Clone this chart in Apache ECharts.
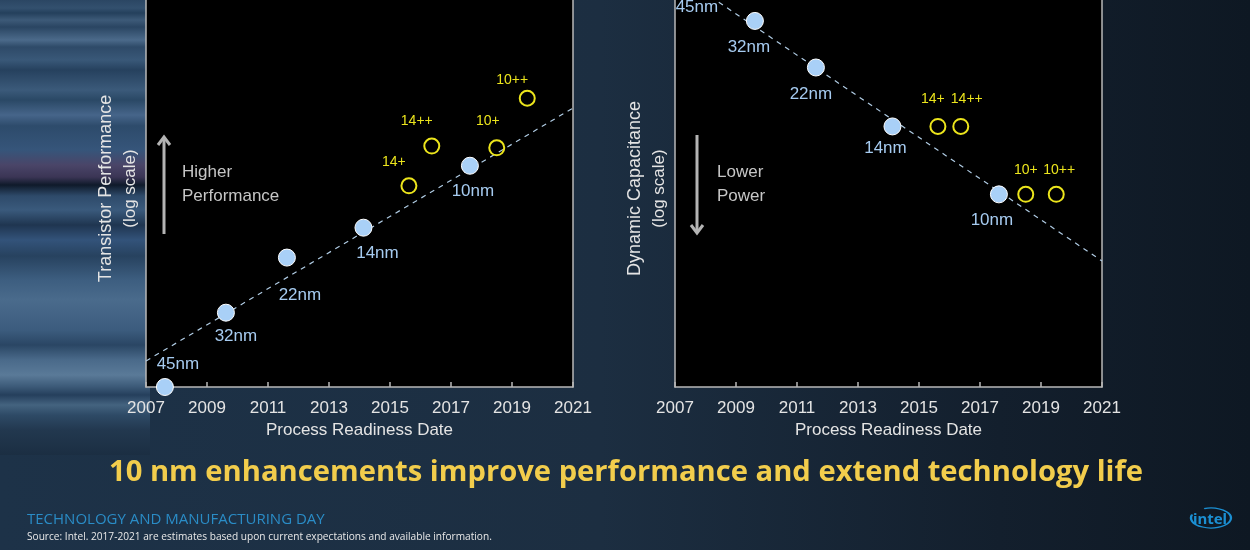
<!DOCTYPE html>
<html>
<head>
<meta charset="utf-8">
<script src="https://cdn.jsdelivr.net/npm/echarts@6/dist/echarts.min.js"></script>
<style>
html,body{margin:0;padding:0;width:1250px;height:550px;overflow:hidden;}
body{
  background:
    linear-gradient(to bottom,
      #2b4663 0px, #33506e 8px, #24405c 13px, #3d5a78 20px, #2a4562 27px, #4b6a8a 40px, #2e4a68 47px,
      #395878 60px, #26415e 70px, #3b5a7a 90px, #2a4865 100px, #46658a 115px, #2d4b6b 126px,
      #36557a 150px, #4a4568 165px, #3b3555 177px, #0f1a2a 185px, #2e4a6a 196px, #3a5a7c 210px,
      #1f3550 225px, #33537a 240px, #27425f 256px, #3d5e80 280px, #4a6b8c 300px, #3c5c7e 330px,
      #2a4664 345px, #4a6a8a 360px, #5a7a98 375px, #3e5c7a 386px, #253f5c 395px, #44637f 405px,
      #2e4a66 415px, #22384f 430px, #1b2e42 455px) 0 0 / 150px 455px no-repeat,
    linear-gradient(to right, #1d3248 0px, #1c2e41 600px, #131f2d 1000px, #0e1823 1250px);
}
#chart{width:1250px;height:550px;}
</style>
</head>
<body>
<div id="chart"></div>
<script>
// ---- data ----
const nodeNames = ['45nm', '32nm', '22nm', '14nm', '10nm'];
const nodeYears = [2007.62, 2009.62, 2011.62, 2014.13, 2017.62];
const plusNames = ['14+', '14++', '10+', '10++'];
const plusYears = [2015.62, 2016.37, 2018.5, 2019.5];

// Transistor performance (log scale, relative units)
const perfNodeVals = [0, 17.4, 30.3, 37.3, 51.8];
const perfPlusVals = [47.1, 56.4, 56.0, 67.6];
const perfTrendYears = [2007, 2021];
const perfTrendVals = [6.1, 65.3];

// Dynamic capacitance (log scale, relative units)
const capNodeVals = [94.5, 85.7, 74.8, 61.0, 45.1];
const capPlusVals = [61.0, 61.0, 45.1, 45.1];
const capTrendYears = [2007.62, 2021];
const capTrendVals = [94.0, 29.5];

const xTicks = [2007, 2009, 2011, 2013, 2015, 2017, 2019, 2021];
const yRange = [0, 90.6];   // visible part of the (cropped) log axis

// ---- style config ----
const FONT = "'Liberation Sans', Arial, sans-serif";
const BLUE = '#a9d0f7';
const BLUE_TXT = '#a6cbf0';
const YEL = '#ece51c';
const BORDER = '#b8b8b8';
const perfLabelOff = {'45nm':[13,-23],'32nm':[10,24],'22nm':[13,38],'14nm':[14,26],'10nm':[3,26],
  '14+':[-15,-24],'14++':[-15,-25],'10+':[-9,-27],'10++':[-15,-18]};
const capLabelOff = {'45nm':[3,24],'32nm':[-6,26],'22nm':[-5,27],'14nm':[-7,22],'10nm':[-7,26],
  '14+':[-5,-27],'14++':[6,-27],'10+':[0,-24],'10++':[3,-24]};

function pts(names, xs, ys, off) {
  return names.map((n, i) => ({
    name: n, value: [xs[i], ys[i]],
    label: {offset: off[n]}
  }));
}

function makeSeries(idx, nodeVals, plusVals, tYears, tVals, off) {
  return [
    {
      type: 'line', xAxisIndex: idx, yAxisIndex: idx, z: 1,
      data: tYears.map((x, i) => [x, tVals[i]]),
      symbol: 'none', silent: true,
      lineStyle: {color: '#b0cce4', width: 1.2, type: [5, 5]}
    },
    {
      type: 'scatter', xAxisIndex: idx, yAxisIndex: idx, z: 3, clip: false,
      data: pts(nodeNames, nodeYears, nodeVals, off),
      symbol: 'circle', symbolSize: 17,
      itemStyle: {color: BLUE, borderColor: '#ffffff', borderWidth: 1, opacity: 1},
      label: {show: true, position: 'inside', formatter: '{b}', color: BLUE_TXT,
        fontSize: 17, fontFamily: FONT}
    },
    {
      type: 'scatter', xAxisIndex: idx, yAxisIndex: idx, z: 3, clip: false,
      data: pts(plusNames, plusYears, plusVals, off),
      symbol: 'circle', symbolSize: 15,
      itemStyle: {color: 'rgba(0,0,0,0)', borderColor: YEL, borderWidth: 2, opacity: 1},
      label: {show: true, position: 'inside', formatter: '{b}', color: YEL,
        fontSize: 14, fontFamily: FONT}
    }
  ];
}

function xAxisCfg(idx) {
  return {
    type: 'value', gridIndex: idx, min: xTicks[0], max: xTicks[xTicks.length - 1], interval: 2,
    axisLine: {show: true, lineStyle: {color: BORDER, width: 1.5}},
    axisTick: {show: true, inside: true, length: 5, lineStyle: {color: BORDER, width: 1.5}},
    splitLine: {show: false},
    axisLabel: {color: '#e4e4e4', fontSize: 17, fontFamily: FONT, margin: 13,
      formatter: v => String(v)},
    name: 'Process Readiness Date', nameLocation: 'middle', nameGap: 35,
    nameTextStyle: {color: '#e4e4e4', fontSize: 17, fontFamily: FONT}
  };
}
function yAxisCfg(idx, title) {
  return {
    type: 'value', gridIndex: idx, min: yRange[0], max: yRange[1], position: 'left',
    axisLine: {show: true, onZero: false, lineStyle: {color: BORDER, width: 1.5}},
    axisTick: {show: false}, axisLabel: {show: false},
    splitLine: {show: false},
    name: '{a|' + title + '}\n{b|(log scale)}', nameLocation: 'middle', nameRotate: 90, nameGap: 4,
    nameTextStyle: {color: '#e4e4e4', fontFamily: FONT, align: 'center', padding: [0, 0, 0, 10],
      rich: {a: {fontSize: 18, lineHeight: 24, color: '#e4e4e4', fontFamily: FONT, align: 'center'},
             b: {fontSize: 17, lineHeight: 24, color: '#e4e4e4', fontFamily: FONT, align: 'center'}}}
  };
}
function yRightCfg(idx) {
  return {
    type: 'value', gridIndex: idx, min: yRange[0], max: yRange[1], position: 'right',
    axisLine: {show: true, onZero: false, lineStyle: {color: BORDER, width: 1.5}},
    axisTick: {show: false}, axisLabel: {show: false}, splitLine: {show: false}
  };
}

const chart = echarts.init(document.getElementById('chart'), null, {renderer: 'canvas'});
const gridStyle = {show: true, backgroundColor: '#000000', borderWidth: 0, top: 0, bottom: 163};

function arrow(x, y0, y1, up) {
  const d = up ? 8 : -8;
  return [
    {type: 'line', shape: {x1: x, y1: y0, x2: x, y2: y1}, style: {stroke: '#b4b4b4', lineWidth: 3}, silent: true, z: 10},
    {type: 'polyline', shape: {points: [[x - 6, y1 + d], [x, y1], [x + 6, y1 + d]]},
      style: {stroke: '#b4b4b4', lineWidth: 3, fill: null}, silent: true, z: 10}
  ];
}

chart.setOption({
  backgroundColor: 'transparent',
  animation: false,
  grid: [
    Object.assign({left: 146, right: 677}, gridStyle),
    Object.assign({left: 675, right: 148}, gridStyle)
  ],
  xAxis: [xAxisCfg(0), xAxisCfg(1)],
  yAxis: [yAxisCfg(0, 'Transistor Performance'), yAxisCfg(1, 'Dynamic Capacitance'), yRightCfg(0), yRightCfg(1)],
  series: [].concat(
    makeSeries(0, perfNodeVals, perfPlusVals, perfTrendYears, perfTrendVals, perfLabelOff),
    makeSeries(1, capNodeVals, capPlusVals, capTrendYears, capTrendVals, capLabelOff)
  ),
  graphic: [].concat(
    arrow(164, 234, 137, true),
    arrow(697, 135, 233, false),
    [
      {type: 'text', x: 182, y: 184, silent: true, z: 10,
        style: {text: 'Higher\nPerformance', fill: '#c6c6c6', font: '17px ' + FONT, lineHeight: 24, verticalAlign: 'middle'}},
      {type: 'text', x: 717, y: 184, silent: true, z: 10,
        style: {text: 'Lower\nPower', fill: '#c6c6c6', font: '17px ' + FONT, lineHeight: 24, verticalAlign: 'middle'}},
      {type: 'text', x: 626, y: 473, silent: true,
        style: {text: '10 nm enhancements improve performance and extend technology life', fill: '#f2cd4c',
          font: "bold 29.2px 'Open Sans', 'Noto Sans', sans-serif", align: 'center', verticalAlign: 'middle'}},
      {type: 'text', x: 27, y: 520, silent: true,
        style: {text: 'TECHNOLOGY AND MANUFACTURING DAY', fill: '#2a8cc6',
          font: "15px 'Open Sans', 'Noto Sans', sans-serif", verticalAlign: 'middle'}},
      {type: 'text', x: 27, y: 537, silent: true,
        style: {text: 'Source: Intel. 2017-2021 are estimates based upon current expectations and available information.', fill: '#e8e8e8',
          font: "10.15px 'Open Sans', 'Noto Sans', sans-serif", verticalAlign: 'middle'}},
      {type: 'group', x: 1211, y: 518, scaleY: 0.5, silent: true, children: [
        {type: 'arc', shape: {cx: 0, cy: 0, r: 20, startAngle: 250 * Math.PI / 180, endAngle: 200 * Math.PI / 180, clockwise: true},
          style: {stroke: '#1b8fd2', lineWidth: 2.4, fill: null}}
      ]},
      {type: 'text', x: 1210, y: 520, silent: true,
        style: {text: 'intel', fill: '#1b8fd2', font: "bold 15px 'Noto Sans', sans-serif", align: 'center', verticalAlign: 'middle'}}
    ]
  )
});
</script>
</body>
</html>
